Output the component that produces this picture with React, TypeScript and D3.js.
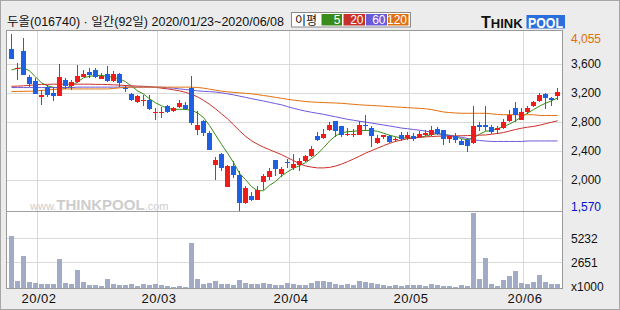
import React from "react";
import * as d3 from "d3";

const TITLE = "두올(016740) · 일간(92일) 2020/01/23~2020/06/08";
const LEGEND_TITLE = "이평";
const MA_LABELS = ["5", "20", "60", "120"];

const OPEN = [
  3807, 3528, 3780, 3426, 3367, 3150, 3280, 3198, 3164, 3380,
  3298, 3357, 3426, 3495, 3518, 3394, 3459, 3371, 3459, 3274,
  3183, 3073, 3100, 3105, 2930, 2935, 3022, 2953, 3000, 3036,
  3266, 2692, 2816, 2647, 2210, 2362, 1898, 2196, 2072, 1683,
  1774, 1728, 1967, 2041, 2279, 2086, 2251, 2165, 2210, 2256,
  2324, 2600, 2578, 2692, 2806, 2747, 2614, 2624, 2623, 2761,
  2715, 2509, 2595, 2609, 2545, 2623, 2578, 2600, 2591, 2614,
  2623, 2706, 2683, 2568, 2609, 2541, 2554, 2509, 2761, 2761,
  2729, 2683, 2715, 2806, 2991, 2820, 2936, 3013, 3082, 3188,
  3128, 3151,
];
const HIGH = [
  4010, 3610, 3954, 3449, 3404, 3243, 3312, 3288, 3596, 3412,
  3380, 3587, 3518, 3541, 3541, 3477, 3573, 3504, 3472, 3312,
  3197, 3174, 3174, 3174, 2991, 3000, 3036, 3000, 3105, 3068,
  3435, 2954, 2830, 2669, 2311, 2371, 2200, 2256, 2128, 1911,
  1834, 1921, 2086, 2165, 2279, 2179, 2289, 2357, 2302, 2348,
  2472, 2655, 2702, 2792, 2806, 2747, 2715, 2702, 2806, 2899,
  2738, 2623, 2623, 2623, 2591, 2655, 2655, 2646, 2669, 2683,
  2738, 2724, 2692, 2623, 2646, 2564, 2578, 3022, 2792, 3022,
  2761, 2738, 2839, 2967, 3073, 2991, 3013, 3082, 3197, 3197,
  3142, 3266,
];
const LOW = [
  3665, 3380, 3449, 3288, 3188, 3036, 3150, 3082, 3164, 3256,
  3243, 3335, 3416, 3412, 3403, 3390, 3357, 3357, 3288, 3206,
  3082, 3059, 3013, 2967, 2830, 2853, 2922, 2936, 2991, 2967,
  2761, 2623, 2609, 2410, 2004, 2118, 1895, 2027, 1570, 1673,
  1705, 1728, 1866, 2004, 2049, 2041, 2165, 2141, 2128, 2242,
  2316, 2541, 2564, 2669, 2591, 2591, 2609, 2591, 2623, 2669,
  2454, 2499, 2564, 2509, 2517, 2541, 2554, 2541, 2578, 2600,
  2609, 2623, 2486, 2509, 2509, 2486, 2379, 2499, 2669, 2669,
  2637, 2637, 2706, 2792, 2792, 2820, 2912, 3000, 3068, 2977,
  3022, 3096,
];
const CLOSE = [
  3665, 3550, 3449, 3321, 3188, 3165, 3174, 3160, 3426, 3302,
  3357, 3435, 3463, 3449, 3426, 3440, 3367, 3459, 3335, 3256,
  3101, 3160, 3105, 2981, 2937, 2940, 2936, 2991, 3060, 2981,
  2784, 2761, 2647, 2417, 2269, 2165, 2196, 2072, 1683, 1889,
  1719, 1866, 2049, 2128, 2151, 2151, 2228, 2224, 2256, 2324,
  2426, 2554, 2637, 2751, 2669, 2623, 2637, 2630, 2761, 2738,
  2609, 2578, 2618, 2517, 2564, 2564, 2623, 2568, 2637, 2646,
  2683, 2637, 2568, 2600, 2554, 2486, 2472, 2747, 2724, 2724,
  2660, 2715, 2792, 2899, 2899, 2936, 2991, 3068, 3174, 3128,
  3105, 3206,
];
// volume, in thousands of shares
const VOLUME = [
  5400, 740, 3290, 640, 530, 420, 420, 420, 2970, 530,
  420, 1910, 640, 320, 320, 210, 950, 420, 320, 320,
  420, 210, 420, 320, 420, 320, 210, 110, 210, 110,
  4660, 950, 420, 530, 740, 420, 420, 320, 850, 530,
  420, 420, 530, 420, 320, 320, 530, 420, 320, 320,
  530, 740, 740, 640, 420, 320, 420, 320, 740, 640,
  530, 420, 320, 210, 320, 210, 320, 320, 320, 210,
  420, 320, 210, 210, 110, 320, 210, 7800, 950, 3070,
  420, 210, 850, 1270, 1800, 530, 420, 640, 1380, 640,
  420, 420,
];
const MA5 = [
  3518, 3539, 3546, 3504, 3422, 3339, 3298, 3277, 3270, 3265,
  3300, 3350, 3410, 3430, 3440, 3442, 3429, 3415, 3394, 3355,
  3295, 3229, 3185, 3119, 3064, 3022, 2988, 2974, 2974, 2972,
  2960, 2925, 2860, 2750, 2620, 2490, 2370, 2240, 2090, 2004,
  1907, 1850, 1850, 1925, 1976, 2055, 2110, 2160, 2195, 2238,
  2295, 2360, 2442, 2535, 2607, 2650, 2664, 2671, 2678, 2682,
  2680, 2671, 2644, 2616, 2596, 2578, 2578, 2582, 2589, 2603,
  2625, 2637, 2630, 2616, 2596, 2568, 2554, 2580, 2630, 2671,
  2680, 2705, 2735, 2770, 2815, 2870, 2920, 2970, 3018, 3057,
  3091, 3130,
];
const MA20 = [
  3291, 3294, 3298, 3305, 3312, 3318, 3318, 3321, 3321, 3321,
  3321, 3321, 3321, 3321, 3318, 3318, 3315, 3312, 3308, 3302,
  3298, 3294, 3291, 3288, 3277, 3266, 3256, 3243, 3229, 3208,
  3181, 3146, 3098, 3043, 2981, 2912, 2843, 2761, 2678, 2602,
  2540, 2492, 2451, 2417, 2382, 2348, 2307, 2265, 2224, 2192,
  2176, 2165, 2165, 2172, 2190, 2217, 2251, 2288, 2327, 2368,
  2403, 2437, 2472, 2503, 2531, 2550, 2568, 2577, 2586, 2593,
  2598, 2602, 2605, 2606, 2607, 2609, 2611, 2614, 2617, 2620,
  2630, 2641, 2653, 2674, 2695, 2713, 2727, 2738, 2754, 2775,
  2795, 2816,
];
const MA60 = [
  3274, 3274, 3274, 3274, 3274, 3274, 3274, 3274, 3274, 3274,
  3274, 3280, 3280, 3280, 3280, 3280, 3280, 3280, 3280, 3280,
  3280, 3280, 3280, 3280, 3280, 3280, 3270, 3266, 3256, 3247,
  3239, 3229, 3222, 3218, 3212, 3201, 3188, 3174, 3156, 3139,
  3121, 3105, 3088, 3071, 3053, 3036, 3011, 2988, 2967, 2949,
  2933, 2919, 2905, 2887, 2871, 2853, 2836, 2823, 2809, 2798,
  2784, 2770, 2758, 2744, 2730, 2715, 2706, 2695, 2685, 2674,
  2658, 2637, 2620, 2609, 2598, 2589, 2571, 2554, 2543, 2536,
  2530, 2530, 2530, 2530, 2530, 2530, 2537, 2537, 2537, 2537,
  2537, 2537,
];
const MA120 = [
  3219, 3220, 3222, 3224, 3226, 3235, 3242, 3248, 3252, 3255,
  3255, 3255, 3255, 3255, 3255, 3255, 3255, 3262, 3270, 3276,
  3280, 3280, 3280, 3280, 3280, 3280, 3280, 3280, 3280, 3280,
  3280, 3275, 3266, 3252, 3238, 3225, 3215, 3208, 3201, 3195,
  3188, 3177, 3164, 3153, 3139, 3126, 3112, 3101, 3091, 3082,
  3075, 3071, 3067, 3064, 3061, 3057, 3050, 3043, 3036, 3031,
  3027, 3022, 3017, 3011, 3006, 3002, 2997, 2992, 2987, 2981,
  2970, 2954, 2937, 2929, 2923, 2919, 2919, 2919, 2919, 2919,
  2912, 2903, 2899, 2899, 2899, 2899, 2899, 2899, 2889, 2889,
  2889, 2889,
];

const PRICE_MAX = 4055;
const PRICE_MIN = 1570;
const PRICE_TICKS = [3600, 3200, 2800, 2400, 2000];
const VOL_TICKS = [5232, 2651];
const MONTH_INDEX = [5, 25, 47, 67, 86];
const MONTH_LABELS = ["20/02", "20/03", "20/04", "20/05", "20/06"];

const RED = "#f01c1c";
const BLUE = "#1f5fe2";
const MA_COLORS = ["#3a8c1a", "#c8302a", "#6a5ad8", "#e07010"];
const GRID = "#d9d9d9";
const FONT = "'Liberation Sans', Arial, sans-serif";
const KFONT = "'Noto Sans CJK KR', 'Liberation Sans', sans-serif";
const TFONT = "'Liberation Sans', 'Noto Sans CJK KR', sans-serif";

const fmt = d3.format(",");

export default function App() {
  const W = 620;
  const H = 310;
  const plotL = 6.5;
  const plotR = 562.5;
  const plotT = 30.5;
  const plotB = 288.5;
  const sepY = 211.5;

  const idx = d3.range(OPEN.length);
  const x = d3.scaleBand<number>().domain(idx).range([8, 8 + 6 * idx.length]);
  const cx = (i: number) => (x(i) as number) + 3.5;
  const y = d3.scaleLinear().domain([PRICE_MIN, PRICE_MAX]).range([211, 31]);
  const yv = d3.scaleLinear().domain([0, VOL_TICKS[0]]).range([288, 237.5]);

  const maSeries = [MA5, MA20, MA60, MA120];
  const line = d3
    .line<number>()
    .x((_, i) => cx(i))
    .y((d) => y(d));

  const legendBoxes = [
    { x: 321.5, w: 20.5 },
    { x: 343.5, w: 21.5 },
    { x: 366, w: 21 },
    { x: 388, w: 20.5 },
  ];

  return (
    <svg width={W} height={H} style={{ display: "block", position: "absolute", left: 0, top: 0 }}>
      <rect x={0} y={0} width={W} height={H} fill="#ececec" />
      <rect x={0.5} y={0.5} width={W - 1} height={H - 1} fill="none" stroke="#a6a6a6" />

      {/* title */}
      <text x={7} y={26} fontFamily={TFONT} fontSize={12} fill="#111" textLength={277} lengthAdjust="spacingAndGlyphs">
        {TITLE}
      </text>

      {/* legend */}
      <rect x={291.5} y={12.5} width={119} height={14.5} fill="#fff" stroke="#8a8a8a" />
      <text x={295} y={24.5} fontFamily={KFONT} fontSize={12} fill="#111">
        {LEGEND_TITLE}
      </text>
      {MA_LABELS.map((lab, k) => (
        <g key={lab}>
          <rect x={legendBoxes[k].x} y={14} width={legendBoxes[k].w} height={11.5} fill={MA_COLORS[k]} />
          <text
            x={legendBoxes[k].x + legendBoxes[k].w - 1.5}
            y={24}
            textAnchor="end"
            fontFamily={FONT}
            fontSize={12}
            fill="#fff"
          >
            {lab}
          </text>
        </g>
      ))}

      {/* logo */}
      <text x={481} y={28} fontFamily={FONT} fontWeight="bold" fill="#111">
        <tspan fontSize={16}>T</tspan>
        <tspan fontSize={13}>HINK</tspan>
      </text>
      <rect x={526.5} y={15} width={38.5} height={13.5} fill="#2a6fdc" />
      <text x={528} y={27.5} fontFamily={FONT} fontWeight="bold" fontSize={14} fill="#fff" textLength={35} lengthAdjust="spacingAndGlyphs">
        POOL
      </text>

      {/* plot area */}
      <rect x={plotL} y={plotT} width={plotR - plotL} height={plotB - plotT} fill="#fff" stroke="#9a9a9a" />

      {/* watermark */}
      <text x={30} y={210} fill="#cdcdcd" fontFamily={FONT}>
        <tspan fontSize={11}>www.</tspan>
        <tspan fontSize={15} fontWeight="bold">THINKPOOL</tspan>
        <tspan fontSize={11}>.com</tspan>
      </text>

      {/* grid */}
      {PRICE_TICKS.map((t) => (
        <line key={t} x1={plotL + 0.5} x2={plotR} y1={Math.round(y(t)) + 0.5} y2={Math.round(y(t)) + 0.5} stroke={GRID} />
      ))}
      {VOL_TICKS.map((t) => (
        <line key={t} x1={plotL + 0.5} x2={plotR} y1={Math.round(yv(t)) + 0.5} y2={Math.round(yv(t)) + 0.5} stroke={GRID} />
      ))}
      {MONTH_INDEX.map((m) => (
        <line key={m} x1={(x(m) as number) - 0.5} x2={(x(m) as number) - 0.5} y1={plotT + 0.5} y2={plotB - 0.5} stroke={GRID} />
      ))}
      <line x1={plotL} x2={plotR} y1={sepY} y2={sepY} stroke="#a0a0a0" />

      {/* volume */}
      {VOLUME.map((v, i) => {
        const top = Math.max(Math.round(yv(v)), sepY + 1.5);
        return <rect key={i} x={(x(i) as number) + 1} y={top} width={5} height={288 - top} fill="#a2abc6" />;
      })}

      {/* moving averages */}
      {maSeries.map((s, k) => (
        <path key={k} d={line(s) as string} fill="none" stroke={MA_COLORS[k]} strokeWidth={1} />
      ))}

      {/* candles */}
      {idx.map((i) => {
        const o = OPEN[i];
        const c = CLOSE[i];
        const up = c >= o;
        const col = up ? RED : BLUE;
        const yTop = Math.round(y(Math.max(o, c)));
        const yBot = Math.round(y(Math.min(o, c)));
        return (
          <g key={i}>
            <line x1={cx(i)} x2={cx(i)} y1={Math.round(y(HIGH[i]))} y2={Math.round(y(LOW[i]))} stroke={col} />
            <rect x={(x(i) as number) + 1} y={yTop} width={5} height={Math.max(1, yBot - yTop)} fill={col} />
          </g>
        );
      })}

      <line x1={plotR} x2={plotR} y1={plotT} y2={plotB} stroke="#9a9a9a" />

      {/* price axis labels */}
      <text x={571} y={39} dominantBaseline="central" fontFamily={FONT} fontSize={12} fill="#e07000">
        {fmt(PRICE_MAX)}
      </text>
      {PRICE_TICKS.map((t) => (
        <text key={t} x={571} y={y(t) + 0.5} dominantBaseline="central" fontFamily={FONT} fontSize={12} fill="#111">
          {fmt(t)}
        </text>
      ))}
      <text x={571} y={206.5} dominantBaseline="central" fontFamily={FONT} fontSize={12} fill="#0010d0">
        {fmt(PRICE_MIN)}
      </text>

      {/* volume axis labels */}
      {VOL_TICKS.map((t) => (
        <text key={t} x={571} y={yv(t) + 1} dominantBaseline="central" fontFamily={FONT} fontSize={12} fill="#111">
          {t}
        </text>
      ))}
      <text x={571} y={287} dominantBaseline="central" fontFamily={FONT} fontSize={12} fill="#111">
        x1000
      </text>

      {/* month labels */}
      {MONTH_INDEX.map((m, k) => (
        <text key={m} x={(x(m) as number) + 1} y={303} textAnchor="middle" fontFamily={FONT} fontSize={13} fill="#111" letterSpacing={0.5}>
          {MONTH_LABELS[k]}
        </text>
      ))}
    </svg>
  );
}
